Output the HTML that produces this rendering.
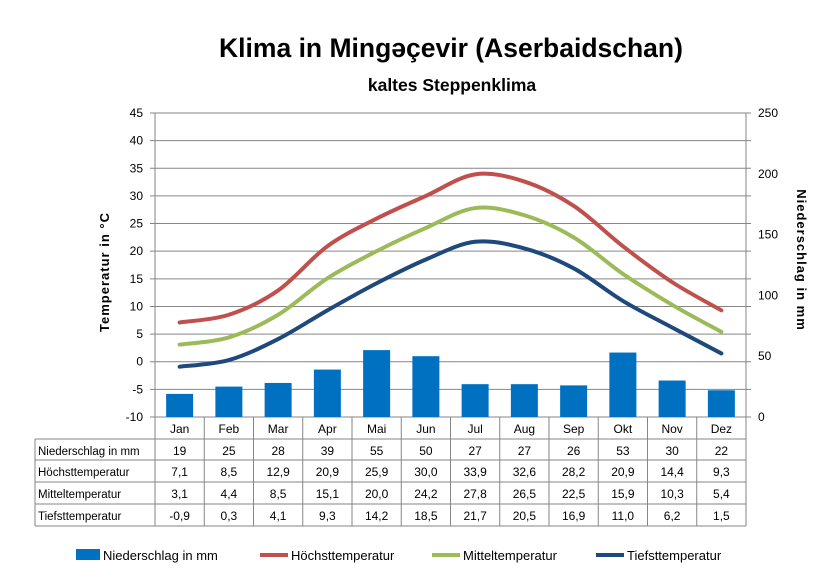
<!DOCTYPE html>
<html><head><meta charset="utf-8"><style>
body{margin:0;background:#fff;}
svg{display:block;font-family:"Liberation Sans",sans-serif;}
</style></head><body>
<svg id="s" width="838" height="579" viewBox="0 0 838 579" xmlns="http://www.w3.org/2000/svg">
<text x="451" y="57" text-anchor="middle" font-size="26.5" font-weight="bold">Klima in Mingəçevir (Aserbaidschan)</text>
<text x="452" y="91" text-anchor="middle" font-size="17.5" font-weight="bold">kaltes Steppenklima</text>
<g id="g"></g>
<text transform="translate(109,272) rotate(-90)" text-anchor="middle" font-size="13" font-weight="bold" letter-spacing="1">Temperatur  in  °C</text>
<text transform="translate(797,260) rotate(90)" text-anchor="middle" font-size="13" font-weight="bold" letter-spacing="1">Niederschlag  in  mm</text>
<rect x="76" y="549" width="24" height="11" fill="#0070c0"/>
<text x="103" y="560" font-size="13">Niederschlag in mm</text>
<line x1="260" y1="555" x2="288" y2="555" stroke="#c0504d" stroke-width="4"/>
<text x="291" y="560" font-size="13">Höchsttemperatur</text>
<line x1="432" y1="555" x2="460" y2="555" stroke="#9bbb59" stroke-width="4"/>
<text x="463" y="560" font-size="13">Mitteltemperatur</text>
<line x1="596" y1="555" x2="624" y2="555" stroke="#1f497d" stroke-width="4"/>
<text x="627" y="560" font-size="13">Tiefsttemperatur</text>
</svg>
<script>
var g=document.getElementById('g'),h='';
var L=155,R=746,T=113,B=417,cw=(R-L)/12;
var P=[19,25,28,39,55,50,27,27,26,53,30,22];
var H=[7.1,8.5,12.9,20.9,25.9,30.0,33.9,32.6,28.2,20.9,14.4,9.3];
var M=[3.1,4.4,8.5,15.1,20.0,24.2,27.8,26.5,22.5,15.9,10.3,5.4];
var Tf=[-0.9,0.3,4.1,9.3,14.2,18.5,21.7,20.5,16.9,11.0,6.2,1.5];
var mo=['Jan','Feb','Mar','Apr','Mai','Jun','Jul','Aug','Sep','Okt','Nov','Dez'];
function ty(t){return B-(t+10)*(B-T)/55;}
function py(p){return B-p*(B-T)/250;}
for(var i=0;i<=11;i++){var y=T+i*(B-T)/11;h+='<line x1="'+(L-5)+'" y1="'+y+'" x2="'+(R+5)+'" y2="'+y+'" stroke="#868686" stroke-width="1"/>';
h+='<text x="'+(L-12)+'" y="'+(y+4)+'" text-anchor="end" font-size="12">'+(45-5*i)+'</text>';}
for(var i=0;i<=5;i++){var y=B-i*(B-T)/5;h+='<text x="'+(R+12)+'" y="'+(y+4)+'" font-size="12">'+(i*50)+'</text>';}
h+='<line x1="'+L+'" y1="'+T+'" x2="'+L+'" y2="'+B+'" stroke="#868686"/><line x1="'+R+'" y1="'+T+'" x2="'+R+'" y2="'+B+'" stroke="#868686"/>';
for(var i=0;i<12;i++){var cx=L+cw*(i+0.5);h+='<rect x="'+(cx-13.5)+'" y="'+py(P[i])+'" width="27" height="'+(B-py(P[i]))+'" fill="#0070c0"/>';}
function curve(a,c){var pts=a.map(function(v,i){return[L+cw*(i+0.5),ty(v)]});var d='M'+pts[0];
for(var i=0;i<pts.length-1;i++){var p0=pts[Math.max(0,i-1)],p1=pts[i],p2=pts[i+1],p3=pts[Math.min(pts.length-1,i+2)];
d+=' C'+(p1[0]+(p2[0]-p0[0])/6)+','+(p1[1]+(p2[1]-p0[1])/6)+' '+(p2[0]-(p3[0]-p1[0])/6)+','+(p2[1]-(p3[1]-p1[1])/6)+' '+p2;}
return '<path d="'+d+'" fill="none" stroke="'+c+'" stroke-width="4" stroke-linecap="round"/>';}
h+=curve(H,'#c0504d')+curve(M,'#9bbb59')+curve(Tf,'#1f497d');
var rows=[417,439,460,482,504,526];
for(var r=1;r<rows.length;r++)h+='<line x1="35" y1="'+rows[r]+'" x2="'+R+'" y2="'+rows[r]+'" stroke="#868686"/>';
h+='<line x1="35" y1="439" x2="35" y2="526" stroke="#868686"/>';
for(var i=0;i<=12;i++){var x=L+cw*i;h+='<line x1="'+x+'" y1="417" x2="'+x+'" y2="526" stroke="#868686"/>';}
var labs=['Niederschlag in mm','Höchsttemperatur','Mitteltemperatur','Tiefsttemperatur'];
var data=[P,H,M,Tf];
for(var i=0;i<12;i++){var cx=L+cw*(i+0.5);h+='<text x="'+cx+'" y="433" text-anchor="middle" font-size="12">'+mo[i]+'</text>';
for(var r=0;r<4;r++){var v=data[r][i];var s=r==0?String(v):v.toFixed(1).replace('.',',');
h+='<text x="'+cx+'" y="'+(rows[r+1]+16)+'" text-anchor="middle" font-size="12">'+s+'</text>';}}
for(var r=0;r<4;r++)h+='<text x="38" y="'+(rows[r+1]+16)+'" font-size="11.5">'+labs[r]+'</text>';
g.innerHTML=h;
</script>
</body></html>
